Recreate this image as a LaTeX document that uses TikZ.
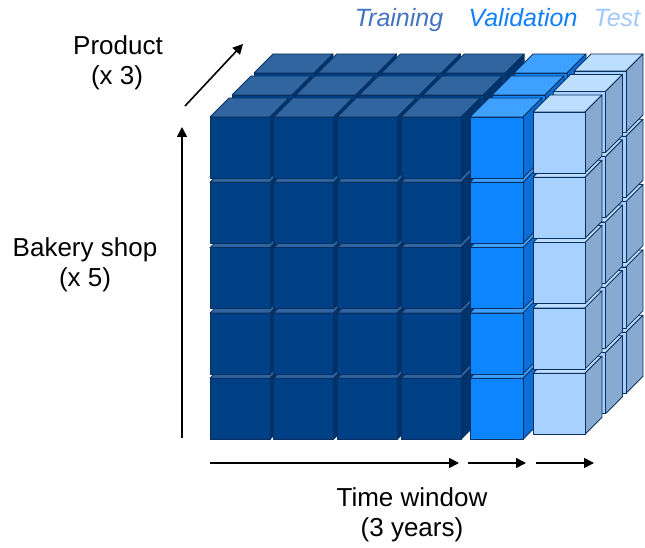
\documentclass[tikz,border=0pt]{standalone}
\usepackage{fontspec}
\setmainfont{Liberation Sans}
\usetikzlibrary{arrows.meta}

% face colours of the three cube blocks
\definecolor{trainfront}{RGB}{0,64,134}
\definecolor{traintop}{RGB}{48,101,160}
\definecolor{trainside}{RGB}{0,51,108}
\definecolor{valfront}{RGB}{12,133,255}
\definecolor{valtop}{RGB}{62,160,255}
\definecolor{valside}{RGB}{12,110,214}
\definecolor{testfront}{RGB}{168,209,255}
\definecolor{testtop}{RGB}{190,222,255}
\definecolor{testside}{RGB}{136,170,208}
\definecolor{cubeline}{RGB}{8,48,96}
% caption colours
\definecolor{trainlabel}{RGB}{68,114,196}
\definecolor{vallabel}{RGB}{18,128,250}
\definecolor{testlabel}{RGB}{160,200,255}

% one cube in oblique view: #1,#2 top-left corner of the front face,
% #3 width, #4 height, #5 depth, #6-#8 front/top/side fills
\newcommand{\bakerycube}[8]{%
  \pgfmathsetmacro\cubex{#1}%
  \pgfmathsetmacro\cubey{#2}%
  \filldraw[cubeedge, fill=#7] (\cubex,\cubey) -- ++(#5,-#5) -- ++(#3,0) -- ++(-#5,#5) -- cycle;
  \filldraw[cubeedge, fill=#8] (\cubex+#3,\cubey) -- ++(#5,-#5) -- ++(0,#4) -- ++(-#5,#5) -- cycle;
  \filldraw[cubeedge, fill=#6] (\cubex,\cubey) rectangle ++(#3,#4);%
}

\begin{document}
\begin{tikzpicture}[x=1pt,y=-1pt,
  cubeedge/.style={draw=cubeline, line width=0.8pt, line join=round},
  axisarrow/.style={line width=1.6pt, -{Triangle[length=10pt,width=10pt]}},
  axislabel/.style={font=\fontsize{26}{30}\selectfont, inner sep=0pt, anchor=base},
  splitlabel/.style={font=\fontsize{25}{30}\selectfont\itshape, inner sep=0pt, anchor=base}]

\useasboundingbox (0,0) rectangle (645,548);

% cube blocks, drawn from the back layer to the front one
\foreach \lay in {2,1,0}{
  \foreach \row in {4,3,2,1,0}{
    \foreach \col in {0,1,2,3}{
      \bakerycube{210+\col*63.7+\lay*22}{117+\row*65.3-\lay*22}{60}{61}{19}{trainfront}{traintop}{trainside}
    }
    \bakerycube{470+\lay*22}{117+\row*65.3-\lay*22}{53}{61}{19}{valfront}{valtop}{valside}
    \bakerycube{533+\lay*20.5}{112+\row*65.3-\lay*20.5}{52}{61}{17}{testfront}{testtop}{testside}
  }
}

% split captions
\node[splitlabel, text=trainlabel] (training) at (399,27) {Training};
\node[splitlabel, text=vallabel] (validation) at (523,27) {Validation};
\node[splitlabel, text=testlabel] (test) at (617,27) {Test};

% axis captions
\node[axislabel] (product) at (118,55) {Product};
\node[axislabel] (productcount) at (117,85) {(x 3)};
\node[axislabel] (shop) at (85,256) {Bakery shop};
\node[axislabel] (shopcount) at (85,286) {(x 5)};
\node[axislabel] (time) at (412,506) {Time window};
\node[axislabel] (timespan) at (412,536) {(3 years)};

% axis arrows
\coordinate (prodfrom) at (185,106);
\coordinate (prodto) at (243,44);
\coordinate (shopfrom) at (182,438);
\coordinate (shopto) at (182,127);
\coordinate (trainfrom) at (210,463);
\coordinate (trainto) at (459,463);
\coordinate (valfrom) at (468,463);
\coordinate (valto) at (526,463);
\coordinate (testfrom) at (536,463);
\coordinate (testto) at (594,463);
\draw[axisarrow] (prodfrom) -- (prodto);
\draw[axisarrow] (shopfrom) -- (shopto);
\draw[axisarrow] (trainfrom) -- (trainto);
\draw[axisarrow] (valfrom) -- (valto);
\draw[axisarrow] (testfrom) -- (testto);
\end{tikzpicture}
\end{document}
